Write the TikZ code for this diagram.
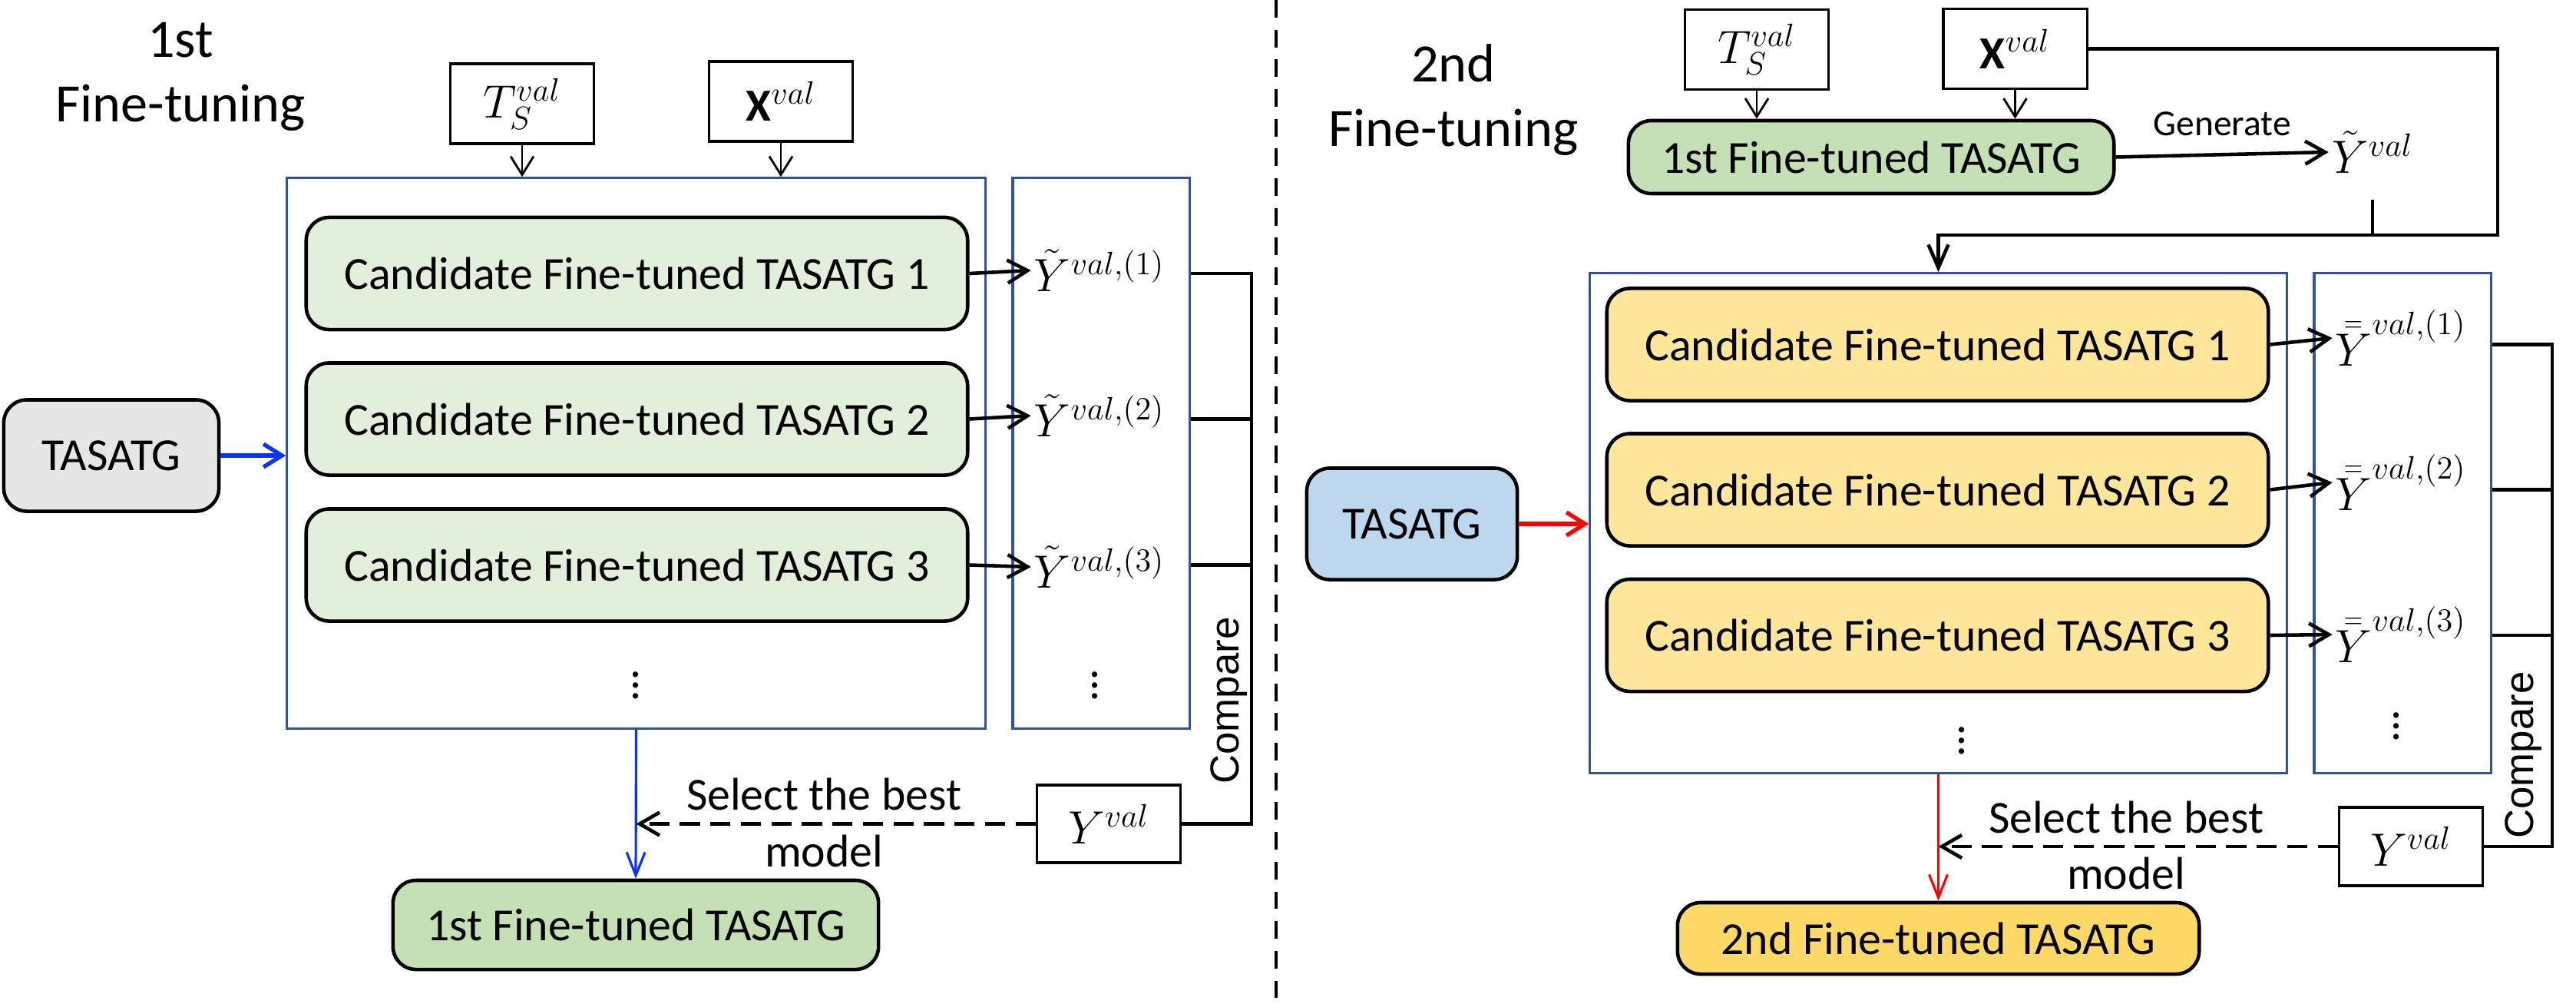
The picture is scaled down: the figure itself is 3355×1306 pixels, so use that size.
\documentclass[tikz,border=0pt]{standalone}
\usepackage{fontspec}
\setmainfont{Carlito}
\newfontfamily\cmpfont{Liberation Sans}
\usetikzlibrary{arrows.meta}
\definecolor{stageblue}{HTML}{2F5597}
\definecolor{candgreen}{HTML}{E2EFDA}
\definecolor{bestgreen}{HTML}{C5E0B4}
\definecolor{candyellow}{HTML}{FFE699}
\definecolor{bestyellow}{HTML}{FFD966}
\definecolor{basegray}{HTML}{E6E6E6}
\definecolor{baseblue}{HTML}{BDD7EE}
\definecolor{flowblue}{HTML}{0A32FF}
\definecolor{flowred}{HTML}{FF0000}

\begin{document}
\begin{tikzpicture}[x=0.01cm, y=-0.01cm,
    modelbox/.style={draw, rounded corners=0.3cm, line width=1.3pt, font=\fontsize{17}{20}\selectfont},
    candbox/.style={modelbox, minimum width=8.61cm, minimum height=1.46cm},
    inbox/.style={draw, line width=0.9pt, minimum width=1.87cm, minimum height=1.04cm, font=\fontsize{17}{20}\selectfont},
    stagebox/.style={draw=stageblue, line width=0.9pt},
    ylabel/.style={font=\fontsize{17}{20}\selectfont, inner sep=1pt},
    fttitle/.style={align=center, font=\fontsize{20}{24}\selectfont},
    inarrow/.style={line width=0.8pt, -{Straight Barb[length=0.24cm, width=0.3cm]}},
    outarrow/.style={line width=1.3pt, -{Straight Barb[length=0.26cm, width=0.3cm]}},
    joinline/.style={line width=1.3pt},
    selectline/.style={line width=1.3pt, dash pattern=on 7.5pt off 3.8pt, -{Straight Barb[length=0.26cm, width=0.3cm]}},
    cmplabel/.style={rotate=90, font=\cmpfont\fontsize{15}{18}\selectfont},
    divider/.style={line width=1.3pt, dash pattern=on 6.5pt off 4.5pt}
]
    \useasboundingbox (0,0) rectangle (3355,1306);

    % First fine-tuning
    \node[fttitle] (title1) at (235,100) {1st\\Fine-tuning};
    \node[inbox] (ts1) at (680,135) {$T_S^{val}$};
    \node[inbox] (xv1) at (1017,132) {$\mathbf{X}^{val}$};

    \node[stagebox, minimum width=9.09cm, minimum height=7.16cm] (big1) at (828.5,590) {};
    \node[stagebox, minimum width=2.30cm, minimum height=7.16cm] (col1) at (1434,590) {};

    \node[candbox, fill=candgreen] (c11) at (829.5,356) {Candidate Fine-tuned TASATG 1};
    \node[candbox, fill=candgreen] (c12) at (829.5,545.5) {Candidate Fine-tuned TASATG 2};
    \node[candbox, fill=candgreen] (c13) at (829.5,735.5) {Candidate Fine-tuned TASATG 3};
    \node[ylabel] (dots11) at (828,882) {$\vdots$};

    \node[ylabel] (y11) at (1432,352) {$\tilde{Y}^{val,(1)}$};
    \node[ylabel] (y12) at (1432,541) {$\tilde{Y}^{val,(2)}$};
    \node[ylabel] (y13) at (1432,738) {$\tilde{Y}^{val,(3)}$};
    \node[ylabel] (dots12) at (1426,882) {$\vdots$};

    \node[modelbox, fill=basegray, minimum width=2.80cm, minimum height=1.45cm] (base1) at (145,593) {TASATG};
    \node[inbox, minimum height=1.01cm] (yv1) at (1444,1072.5) {$Y^{val}$};
    \node[modelbox, fill=bestgreen, minimum width=6.32cm, minimum height=1.16cm] (best1) at (828,1204) {1st Fine-tuned TASATG};
    \node[cmplabel] (cmp1) at (1601,912) {Compare};
    \coordinate (bus1) at (1630,356);

    \draw[inarrow] (ts1) -- (ts1 |- big1.north);
    \draw[inarrow] (xv1) -- (xv1 |- big1.north);
    \draw[outarrow] (c11.east) -- (y11.west);
    \draw[outarrow] (c12.east) -- (y12.west);
    \draw[outarrow] (c13.east) -- (y13.west);
    \draw[joinline] (c11 -| col1.east) -- (bus1) |- (yv1.east);
    \draw[joinline] (c12 -| col1.east) -- (c12 -| bus1);
    \draw[joinline] (c13 -| col1.east) -- (c13 -| bus1);
    \draw[line width=1.5pt, flowblue, -{Straight Barb[length=0.24cm, width=0.3cm]}] (base1.east) -- (base1.east -| big1.west);
    \draw[line width=0.9pt, flowblue, -{Straight Barb[length=0.3cm, width=0.24cm]}] (big1.south) -- (best1.north);
    \draw[selectline] (yv1.west) -- (yv1.west -| big1.south)
        node[pos=0.53, above=1pt, font=\fontsize{17}{20}\selectfont] {Select the best}
        node[pos=0.53, below=0pt, font=\fontsize{17}{20}\selectfont] {model};

    % Divider
    \coordinate (divtop) at (1662,0);
    \coordinate (divbot) at (1662,1306);
    \draw[divider] (divtop) -- (divbot);

    % Second fine-tuning
    \node[fttitle] (title2) at (1893,130) {2nd\\Fine-tuning};
    \node[inbox] (ts2) at (2288,64.5) {$T_S^{val}$};
    \node[inbox] (xv2) at (2624.5,63.5) {$\mathbf{X}^{val}$};
    \node[modelbox, fill=bestgreen, minimum width=6.32cm, minimum height=0.95cm] (first2) at (2437,204.5) {1st Fine-tuned TASATG};
    \node[ylabel] (ytil) at (3090,198) {$\tilde{Y}^{val}$};

    \node[stagebox, minimum width=9.07cm, minimum height=6.50cm] (big2) at (2524.5,681) {};
    \node[stagebox, minimum width=2.30cm, minimum height=6.50cm] (col2) at (3129,681) {};

    \node[candbox, fill=candyellow] (c21) at (2523.5,448.5) {Candidate Fine-tuned TASATG 1};
    \node[candbox, fill=candyellow] (c22) at (2523.5,637.5) {Candidate Fine-tuned TASATG 2};
    \node[candbox, fill=candyellow] (c23) at (2523.5,827) {Candidate Fine-tuned TASATG 3};
    \node[ylabel] (dots21) at (2555,954) {$\vdots$};

    \node[ylabel] (y21) at (3127,440) {$\bar{\bar{Y}}^{val,(1)}$};
    \node[ylabel] (y22) at (3127,628) {$\bar{\bar{Y}}^{val,(2)}$};
    \node[ylabel] (y23) at (3127,826) {$\bar{\bar{Y}}^{val,(3)}$};
    \node[ylabel] (dots22) at (3121,935) {$\vdots$};

    \node[modelbox, fill=baseblue, minimum width=2.74cm, minimum height=1.45cm] (base2) at (1839,682) {TASATG};
    \node[inbox, minimum height=1.02cm] (yv2) at (3140,1102) {$Y^{val}$};
    \node[modelbox, fill=bestyellow, minimum width=6.79cm, minimum height=0.93cm] (best2) at (2524.5,1221.5) {2nd Fine-tuned TASATG};
    \node[cmplabel] (cmp2) at (3287,983) {Compare};
    \coordinate (bus2) at (3324,447);
    \coordinate (loop2) at (3253,306);

    \draw[inarrow] (ts2) -- (ts2 |- first2.north);
    \draw[inarrow] (xv2) -- (xv2 |- first2.north);
    \draw[outarrow] (first2.east) -- (ytil.west)
        node[midway, above=3pt, font=\fontsize{13.5}{16}\selectfont] {Generate};
    \draw[joinline, -{Straight Barb[length=0.3cm, width=0.26cm]}] (xv2.east) -| (loop2) -| (big2.north);
    \draw[line width=0.9pt, shorten <=0.3cm] (ytil.south) -- (ytil.south |- loop2);
    \draw[outarrow] (c21.east) -- (y21.west);
    \draw[outarrow] (c22.east) -- (y22.west);
    \draw[outarrow] (c23.east) -- (y23.west);
    \draw[joinline] (c21 -| col2.east) -- (c21 -| bus2) |- (yv2.east);
    \draw[joinline] (c22 -| col2.east) -- (c22 -| bus2);
    \draw[joinline] (c23 -| col2.east) -- (c23 -| bus2);
    \draw[line width=1.5pt, flowred, -{Straight Barb[length=0.24cm, width=0.3cm]}] (base2.east) -- (base2.east -| big2.west);
    \draw[line width=0.9pt, flowred, -{Straight Barb[length=0.3cm, width=0.24cm]}] (big2.south) -- (best2.north);
    \draw[selectline] (yv2.west) -- (yv2.west -| big2.south)
        node[pos=0.53, above=1pt, font=\fontsize{17}{20}\selectfont] {Select the best}
        node[pos=0.53, below=0pt, font=\fontsize{17}{20}\selectfont] {model};
\end{tikzpicture}
\end{document}
